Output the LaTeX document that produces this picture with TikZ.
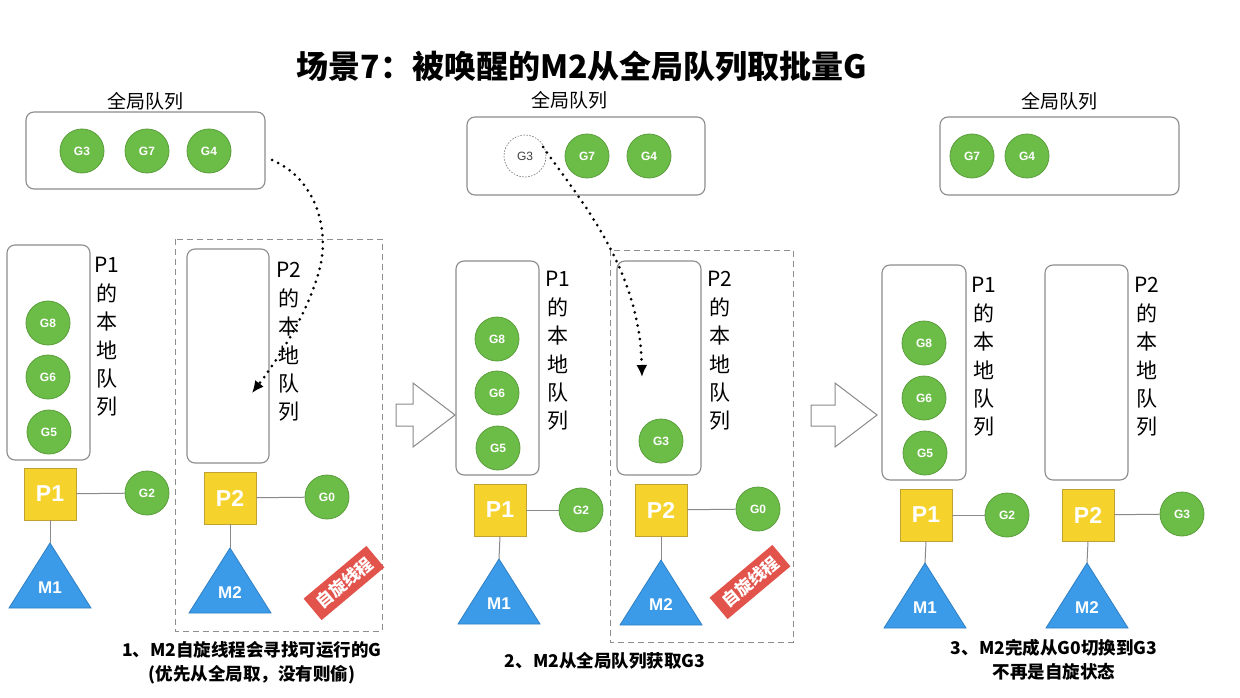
\documentclass[tikz,border=0pt]{standalone}
\usepackage{fontspec}
\setmainfont{Noto Sans CJK SC}
\newfontfamily\latinsans{Liberation Sans}
\usetikzlibrary{arrows.meta}
\definecolor{ggreen}{HTML}{6CBD48}
\definecolor{gborder}{HTML}{5A9E3A}
\definecolor{pyellow}{HTML}{F5D22C}
\definecolor{pborder}{HTML}{C0A232}
\definecolor{mblue}{HTML}{3B9BE8}
\definecolor{mborder}{HTML}{2F80C4}
\definecolor{boxgray}{HTML}{8C8C8C}
\definecolor{linegray}{HTML}{8A8A8A}
\definecolor{dashgray}{HTML}{8E8E8E}
\definecolor{stampred}{HTML}{E2534C}
\newcommand{\mtri}[4]{%
  \coordinate (#1) at (#2,#3);
  \draw[tri] (#1) -- ++(41,65) -- ++(-82,0) -- cycle;
  \node[mlabel] at ($(#1)+(0,45)$) {#4};}
\usetikzlibrary{calc}
\begin{document}
\begin{tikzpicture}[x=1pt,y=-1pt,
  qbox/.style={draw=boxgray, line width=1.1pt, rounded corners=8pt},
  gnode/.style={circle, fill=ggreen, draw=gborder, line width=0.8pt, minimum size=44pt, inner sep=0pt, text=white, font=\latinsans\bfseries\fontsize{12}{12}\selectfont},
  ghost/.style={circle, draw=gray, dash pattern=on 1.5pt off 1.5pt, line width=0.7pt, minimum size=42pt, inner sep=0pt, text=darkgray, font=\latinsans\fontsize{12}{12}\selectfont},
  pnode/.style={rectangle, fill=pyellow, draw=pborder, line width=0.8pt, minimum size=52pt, inner sep=0pt, text=white, font=\latinsans\bfseries\fontsize{23}{23}\selectfont},
  link/.style={draw=linegray, line width=1pt},
  tri/.style={fill=mblue, draw=mborder, line width=0.8pt},
  mlabel/.style={text=white, font=\latinsans\bfseries\fontsize{17}{17}\selectfont},
  vlabel/.style={align=center, font=\fontsize{21}{28.4}\selectfont, inner sep=0pt},
  glabel/.style={font=\fontsize{19}{19}\selectfont},
  caption/.style={font=\bfseries\fontsize{17.5}{24}\selectfont, align=center},
  spinbox/.style={draw=dashgray, dash pattern=on 6pt off 4pt, line width=1pt},
  stamp/.style={fill=stampred, text=white, font=\bfseries\fontsize{17}{17}\selectfont, minimum width=82pt, minimum height=28pt, inner sep=0pt, rotate=40},
  dotarrow/.style={line width=3pt, dash pattern=on 0pt off 6.8pt, line cap=round, -{Latex[length=12pt,width=11pt]}},
  hollow/.style={draw=linegray, fill=white, line width=1pt, line join=miter}
]
\useasboundingbox (0,0) rectangle (1240,698);
\fill[white] (0,0) rectangle (1240,698);

% title
\node[font=\bfseries\fontsize{32}{32}\selectfont] (title) at (582,66) {场景7：被唤醒的M2从全局队列取批量G};

% ================= panel 1 =================
\node[glabel] (gl1) at (145,101) {全局队列};
\draw[qbox] (26,112) rectangle (265,189);
\node[gnode] (a-g3) at (82,151) {G3};
\node[gnode] (a-g7) at (147,151) {G7};
\node[gnode] (a-g4) at (209,151) {G4};

\draw[qbox] (7,245) rectangle (90,460);
\node[vlabel] (a-l1) at (107,337) {P1\\的\\本\\地\\队\\列};
\node[gnode] (a-g8) at (48,323) {G8};
\node[gnode] (a-g6) at (48,377) {G6};
\node[gnode] (a-g5) at (49,432) {G5};
\node[pnode] (a-p1) at (50,494) {P1};
\node[gnode] (a-g2) at (147,493) {G2};
\draw[link] (a-p1) -- (a-g2);
\mtri{a-m1}{50}{543}{M1}
\draw[link] (a-p1.south) -- (a-m1);

\draw[spinbox] (175,239) rectangle (382,631);
\draw[qbox] (187,249) rectangle (269,463);
\node[vlabel] (a-l2) at (289,342) {P2\\的\\本\\地\\队\\列};
\node[pnode] (a-p2) at (230,498) {P2};
\node[gnode] (a-g0) at (327,497) {G0};
\draw[link] (a-p2) -- (a-g0);
\mtri{a-m2}{230}{548}{M2}
\draw[link] (a-p2.south) -- (a-m2);
\node[stamp] (a-st) at (344,583) {自旋线程};

\coordinate (a-from) at (272,160);
\coordinate (a-to) at (252,393);
\draw[dotarrow] (a-from) .. controls (315,178) and (332,230) .. (318,275) .. controls (305,318) and (276,362) .. (a-to);

\node[caption] (cap1) at (252,663) {1、M2自旋线程会寻找可运行的G\\(优先从全局取，没有则偷)};

% arrow 1
\draw[hollow] (396,404) -- (413,404) -- (413,383) -- (455,415) -- (413,447) -- (413,426) -- (396,426) -- cycle;

% ================= panel 2 =================
\node[glabel] (gl2) at (569,100) {全局队列};
\draw[qbox] (467,117) rectangle (705,195);
\node[ghost] (b-g3old) at (525,156) {G3};
\node[gnode] (b-g7) at (587,156) {G7};
\node[gnode] (b-g4) at (649,156) {G4};

\draw[qbox] (456,261) rectangle (539,475);
\node[vlabel] (b-l1) at (558,351) {P1\\的\\本\\地\\队\\列};
\node[gnode] (b-g8) at (497,339) {G8};
\node[gnode] (b-g6) at (497,393) {G6};
\node[gnode] (b-g5) at (498,448) {G5};
\node[pnode] (b-p1) at (500,510) {P1};
\node[gnode] (b-g2) at (581,510) {G2};
\draw[link] (b-p1) -- (b-g2);
\mtri{b-m1}{499}{559}{M1}
\draw[link] (b-p1.south) -- (b-m1);

\draw[spinbox] (610,250) rectangle (793,642);
\draw[qbox] (617,261) rectangle (701,475);
\node[vlabel] (b-l2) at (720,351) {P2\\的\\本\\地\\队\\列};
\node[gnode] (b-g3) at (661,441) {G3};
\node[pnode] (b-p2) at (661,510) {P2};
\node[gnode] (b-g0) at (758,509) {G0};
\draw[link] (b-p2) -- (b-g0);
\mtri{b-m2}{661}{560}{M2}
\draw[link] (b-p2.south) -- (b-m2);
\node[stamp] (b-st) at (750,582) {自旋线程};

\coordinate (b-from) at (543,147);
\coordinate (b-to) at (642,377);
\draw[dotarrow] (b-from) .. controls (580,200) and (640,268) .. (b-to);

\node[caption] (cap2) at (605,661) {2、M2从全局队列获取G3};

% arrow 2
\draw[hollow] (811,405) -- (835,405) -- (835,383) -- (877,415) -- (835,447) -- (835,426) -- (811,426) -- cycle;

% ================= panel 3 =================
\node[glabel] (gl3) at (1059,101) {全局队列};
\draw[qbox] (940,117) rectangle (1179,195);
\node[gnode] (c-g7) at (972,156) {G7};
\node[gnode] (c-g4) at (1027,156) {G4};

\draw[qbox] (882,265) rectangle (966,480);
\node[vlabel] (c-l1) at (984,357) {P1\\的\\本\\地\\队\\列};
\node[gnode] (c-g8) at (924,343) {G8};
\node[gnode] (c-g6) at (924,398) {G6};
\node[gnode] (c-g5) at (925,453) {G5};
\node[pnode] (c-p1) at (926,515) {P1};
\node[gnode] (c-g2) at (1007,515) {G2};
\draw[link] (c-p1) -- (c-g2);
\mtri{c-m1}{925}{563}{M1}
\draw[link] (c-p1.south) -- (c-m1);

\draw[qbox] (1045,265) rectangle (1128,480);
\node[vlabel] (c-l2) at (1147,357) {P2\\的\\本\\地\\队\\列};
\node[pnode] (c-p2) at (1088,515) {P2};
\node[gnode] (c-g3) at (1182,514) {G3};
\draw[link] (c-p2) -- (c-g3);
\mtri{c-m2}{1087}{563}{M2}
\draw[link] (c-p2.south) -- (c-m2);

\node[caption] (cap3) at (1054,660) {3、M2完成从G0切换到G3\\不再是自旋状态};
\end{tikzpicture}
\end{document}
